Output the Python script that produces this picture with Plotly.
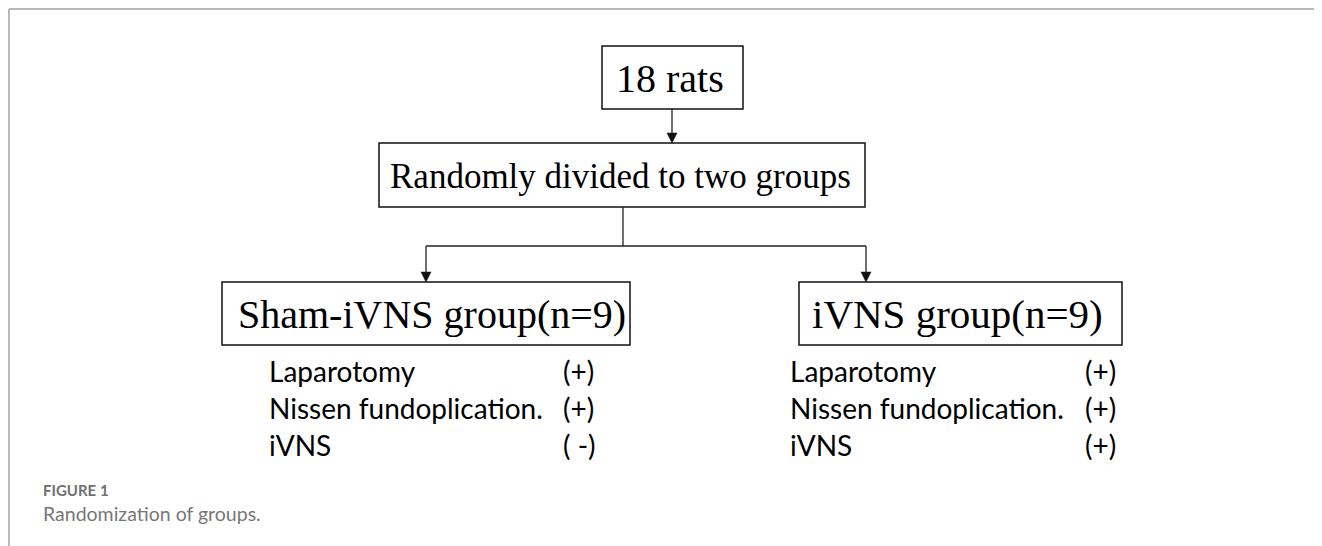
import plotly.graph_objects as go

# ---- content ----
top_label = "18 rats"
split_label = "Randomly divided to two groups"
group_labels = ["Sham-iVNS group(n=9)", "iVNS group(n=9)"]
procedures = ["Laparotomy", "Nissen fundoplication.", "iVNS"]
sham_signs = ["(+)", "(+)", "( -)"]
ivns_signs = ["(+)", "(+)", "(+)"]
caption_title = "FIGURE 1"
caption_text = "Randomization of groups."

W, H = 1322, 546
OFF = 8  # page body margin
fig = go.Figure()
shapes = []
annots = []

SERIF = "Liberation Serif, Times New Roman, serif"
SANS = "Lato, Open Sans, sans-serif"


def box(x0, y0, x1, y1):
    shapes.append(dict(type="rect", x0=x0, y0=y0, x1=x1, y1=y1,
                       line=dict(color="#111", width=1.5), fillcolor="rgba(0,0,0,0)"))


def line(x0, y0, x1, y1, color="#222", width=1.3):
    shapes.append(dict(type="line", x0=x0, y0=y0, x1=x1, y1=y1,
                       line=dict(color=color, width=width)))


def arrow_down(x, y0, y1):
    line(x, y0, x, y1 - 8)
    shapes.append(dict(type="path",
                       path=f"M {x-5},{y1-10} L {x+5},{y1-10} L {x},{y1} Z",
                       fillcolor="#111", line=dict(color="#111", width=0.5)))


def text(x, y, s, size, font, xanchor="center", color="#000", bold=False):
    annots.append(dict(x=x, y=y, text=(f"<b>{s}</b>" if bold else s), showarrow=False,
                       xanchor=xanchor, yanchor="middle",
                       font=dict(family=font, size=size, color=color)))


# frame
line(9, 9, W + 5, 9, color="#b8b8b8", width=2)
line(9, 9, 9, H + 5, color="#b8b8b8", width=2)

# top box
box(602, 46, 743, 109)
text(670, 78, top_label, 40, SERIF)
arrow_down(672, 109, 143)

# split box
box(379, 143, 865, 207)
text(620, 176, split_label, 35, SERIF)
line(623, 207, 623, 246)
line(426, 246, 866, 246)
arrow_down(426, 246, 282)
arrow_down(866, 246, 282)

# group boxes
box(222, 282, 630, 345)
text(432, 314, group_labels[0], 40, SERIF)
box(799, 282, 1122, 345)
text(957, 314, group_labels[1], 41, SERIF)

# procedure lists
rows_y = [371, 408, 445]
for i, p in enumerate(procedures):
    text(267, rows_y[i], p, 28, SANS, xanchor="left")
    text(561, rows_y[i], sham_signs[i], 28, SANS, xanchor="left")
    text(788, rows_y[i], p, 28, SANS, xanchor="left")
    text(1083, rows_y[i], ivns_signs[i], 28, SANS, xanchor="left")

# caption
text(41, 490, caption_title, 15, SANS, xanchor="left", color="#707070", bold=True)
text(41, 513, caption_text, 19.5, SANS, xanchor="left", color="#777777")

fig.update_layout(
    width=W - OFF, height=H - OFF,
    margin=dict(l=0, r=0, t=0, b=0),
    paper_bgcolor="white", plot_bgcolor="white",
    xaxis=dict(range=[OFF, W], visible=False, fixedrange=True),
    yaxis=dict(range=[H, OFF], visible=False, fixedrange=True),
    shapes=shapes, annotations=annots, showlegend=False,
)
fig.write_html("out.html")
